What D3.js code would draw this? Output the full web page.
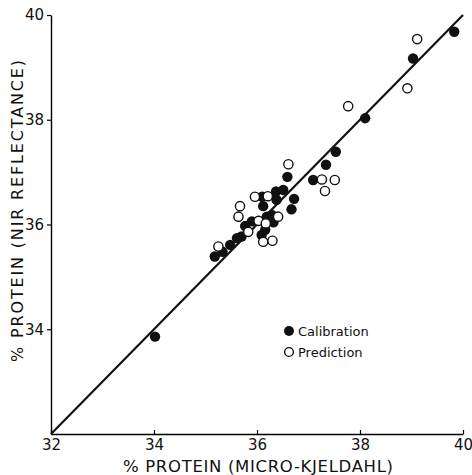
<!DOCTYPE html>
<html>
<head>
<meta charset="utf-8">
<style>
  body { margin: 0; background: #fff; }
  text { font-family: "DejaVu Sans", sans-serif; fill: #111; }
</style>
</head>
<body>
<script src="https://cdn.jsdelivr.net/npm/d3@7"></script>
<script>
// calibration samples (filled dots): micro-kjeldahl x, NIR y
var calX = [39.83, 39.03, 38.10, 37.53, 37.34, 36.59, 37.09, 36.37, 36.51, 36.72, 36.67, 36.10, 36.12, 36.38,
            35.90, 36.19, 36.29, 36.32, 35.77, 36.16, 36.09, 35.70, 35.61, 35.48, 35.33, 35.18, 34.02];
var calY = [39.68, 39.17, 38.03, 37.39, 37.14, 36.91, 36.85, 36.63, 36.66, 36.49, 36.29, 36.53, 36.35, 36.47,
            36.06, 36.15, 36.18, 36.04, 35.97, 35.90, 35.80, 35.77, 35.74, 35.61, 35.48, 35.39, 33.86];
// prediction samples (open dots)
var preX = [39.11, 38.92, 37.77, 36.61, 37.26, 37.51, 37.32, 35.96, 36.21, 35.67, 35.64, 36.03, 36.41, 36.17,
            35.83, 36.12, 36.30, 35.25];
var preY = [39.54, 38.60, 38.26, 37.15, 36.86, 36.85, 36.64, 36.53, 36.54, 36.35, 36.15, 36.07, 36.15, 36.02,
            35.86, 35.67, 35.69, 35.58];
var ticks = [32, 34, 36, 38, 40];
var legendLabels = ["Calibration", "Prediction"];

var width = 472, height = 475;
var x0 = 51, x1 = 463, y0 = 434, y1 = 15;

var svg = d3.select("body").append("svg")
    .attr("width", width)
    .attr("height", height);

var x = d3.scaleLinear().domain([32, 40]).range([x0, x1]);
var y = d3.scaleLinear().domain([32, 40]).range([y0, y1]);

// x axis, ticks point up into the plot
var xAxis = svg.append("g")
    .attr("transform", "translate(0," + y0 + ")")
    .call(d3.axisBottom(x).tickValues(ticks).tickSizeInner(-4).tickSizeOuter(0).tickPadding(5));
xAxis.select(".domain").attr("stroke-width", 1.6);
xAxis.selectAll(".tick line").attr("stroke-width", 1.2);
xAxis.selectAll("text").attr("font-size", 15);

// y axis
var yAxis = svg.append("g")
    .attr("transform", "translate(" + x0 + ",0)")
    .call(d3.axisLeft(y).tickValues(ticks.slice(1)).tickSizeInner(4).tickSizeOuter(0).tickPadding(3));
yAxis.select(".domain").attr("stroke-width", 1.4);
yAxis.selectAll(".tick line").attr("stroke-width", 1.2);
yAxis.selectAll("text").attr("font-size", 15);

// 1:1 line
svg.append("line")
    .attr("x1", x(32)).attr("y1", y(32))
    .attr("x2", x(40)).attr("y2", y(40))
    .attr("stroke", "#111")
    .attr("stroke-width", 2.2);

// points
svg.selectAll("circle.cal")
    .data(calX)
    .enter()
    .append("circle")
    .attr("class", "cal")
    .attr("cx", function(d, i) { return x(d); })
    .attr("cy", function(d, i) { return y(calY[i]); })
    .attr("r", 5.2)
    .attr("fill", "#111");

svg.selectAll("circle.pre")
    .data(preX)
    .enter()
    .append("circle")
    .attr("class", "pre")
    .attr("cx", function(d, i) { return x(d); })
    .attr("cy", function(d, i) { return y(preY[i]); })
    .attr("r", 4.6)
    .attr("fill", "#fff")
    .attr("stroke", "#111")
    .attr("stroke-width", 1.4);

// legend
var legend = svg.selectAll("g.leg")
    .data(legendLabels)
    .enter()
    .append("g")
    .attr("class", "leg")
    .attr("transform", function(d, i) { return "translate(289," + (331 + i * 21) + ")"; });
legend.append("circle")
    .attr("r", function(d, i) { return i == 0 ? 5 : 4.4; })
    .attr("fill", function(d, i) { return i == 0 ? "#111" : "#fff"; })
    .attr("stroke", "#111")
    .attr("stroke-width", function(d, i) { return i == 0 ? 0 : 1.4; });
legend.append("text")
    .attr("x", 9)
    .attr("y", 5)
    .attr("font-size", 13)
    .text(function(d) { return d; });

// axis titles
svg.append("text")
    .attr("x", 258)
    .attr("y", 472)
    .attr("text-anchor", "middle")
    .attr("font-size", 16.5)
    .attr("textLength", 270)
    .attr("lengthAdjust", "spacing")
    .text("% PROTEIN (MICRO-KJELDAHL)");

svg.append("text")
    .attr("transform", "translate(23," + 211 + ") rotate(-90)")
    .attr("text-anchor", "middle")
    .attr("font-size", 16)
    .attr("textLength", 302)
    .attr("lengthAdjust", "spacing")
    .text("% PROTEIN (NIR REFLECTANCE)");
</script>
</body>
</html>
